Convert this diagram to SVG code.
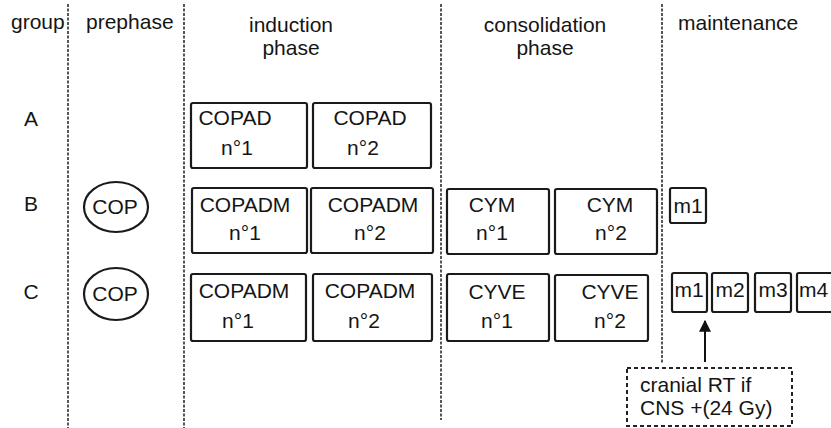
<svg xmlns="http://www.w3.org/2000/svg" width="831" height="428" viewBox="0 0 831 428">
  <style>
    text { font-family: "Liberation Sans", Arial, sans-serif; font-size: 21px; fill: #151515; }
    .mid { text-anchor: middle; }
    .sep { stroke: #444; stroke-width: 1.8; stroke-dasharray: 3 1.5; fill: none; }
    .box { fill: #fff; stroke: #1a1a1a; stroke-width: 2.2; }
    .oval { fill: #fff; stroke: #1a1a1a; stroke-width: 2.2; }
    .note { fill: #fff; stroke: #222; stroke-width: 2; stroke-dasharray: 4 3; }
    .arrow { stroke: #111; stroke-width: 2; fill: none; }
  </style>
  <defs>
    <marker id="head" viewBox="0 0 10 10" refX="9" refY="5" markerWidth="6" markerHeight="6" orient="auto">
      <path d="M0,0 L10,5 L0,10 z" fill="#111"/>
    </marker>
  </defs>
  <rect width="831" height="428" fill="#fff"/>

  <!-- column separators -->
  <g id="separators">
    <line class="sep" x1="68" y1="4" x2="68" y2="428"/>
    <line class="sep" x1="184" y1="4" x2="184" y2="428"/>
    <line class="sep" x1="441" y1="4" x2="441" y2="420"/>
    <line class="sep" x1="662" y1="4" x2="662" y2="364"/>
  </g>

  <!-- column headers -->
  <g id="headers">
    <text x="11" y="29">group</text>
    <text x="86" y="29">prephase</text>
    <text class="mid" x="291" y="32">induction</text>
    <text class="mid" x="291" y="55">phase</text>
    <text class="mid" x="545" y="32">consolidation</text>
    <text class="mid" x="545" y="55">phase</text>
    <text x="678" y="30">maintenance</text>
  </g>

  <!-- row labels -->
  <g id="rows">
    <text class="mid" x="31" y="126">A</text>
    <text class="mid" x="31" y="211">B</text>
    <text class="mid" x="31" y="299">C</text>
  </g>

  <!-- prephase -->
  <g id="cop-b">
    <ellipse class="oval" cx="116" cy="207" rx="32" ry="25"/>
    <text class="mid" x="115" y="214">COP</text>
  </g>
  <g id="cop-c">
    <ellipse class="oval" cx="116" cy="294" rx="32" ry="26"/>
    <text class="mid" x="115" y="301">COP</text>
  </g>

  <!-- induction phase -->
  <g id="copad-a1">
    <rect class="box" x="191" y="103" width="116" height="65" rx="2"/>
    <text class="mid" x="235" y="125">COPAD</text>
    <text class="mid" x="237" y="155">n°1</text>
  </g>
  <g id="copad-a2">
    <rect class="box" x="313" y="103" width="118" height="65" rx="2"/>
    <text class="mid" x="370" y="125">COPAD</text>
    <text class="mid" x="363" y="155">n°2</text>
  </g>
  <g id="copadm-b1">
    <rect class="box" x="192" y="188" width="115" height="65" rx="2"/>
    <text class="mid" x="245" y="212">COPADM</text>
    <text class="mid" x="245" y="240">n°1</text>
  </g>
  <g id="copadm-b2">
    <rect class="box" x="311" y="188" width="122" height="65" rx="2"/>
    <text class="mid" x="373" y="212">COPADM</text>
    <text class="mid" x="370" y="240">n°2</text>
  </g>
  <g id="copadm-c1">
    <rect class="box" x="191" y="274" width="115" height="67" rx="2"/>
    <text class="mid" x="244" y="298">COPADM</text>
    <text class="mid" x="238" y="328">n°1</text>
  </g>
  <g id="copadm-c2">
    <rect class="box" x="313" y="274" width="119" height="67" rx="2"/>
    <text class="mid" x="370" y="298">COPADM</text>
    <text class="mid" x="364" y="328">n°2</text>
  </g>

  <!-- consolidation phase -->
  <g id="cym-1">
    <rect class="box" x="447" y="189" width="102" height="65" rx="2"/>
    <text class="mid" x="492" y="212">CYM</text>
    <text class="mid" x="492" y="240">n°1</text>
  </g>
  <g id="cym-2">
    <rect class="box" x="555" y="189" width="102" height="65" rx="2"/>
    <text class="mid" x="610" y="212">CYM</text>
    <text class="mid" x="611" y="240">n°2</text>
  </g>
  <g id="cyve-1">
    <rect class="box" x="447" y="274" width="102" height="67" rx="2"/>
    <text class="mid" x="497" y="299">CYVE</text>
    <text class="mid" x="497" y="328">n°1</text>
  </g>
  <g id="cyve-2">
    <rect class="box" x="555" y="275" width="93" height="66" rx="2"/>
    <text class="mid" x="610" y="299">CYVE</text>
    <text class="mid" x="610" y="328">n°2</text>
  </g>

  <!-- maintenance -->
  <g id="m1-b">
    <rect class="box" x="670" y="188" width="36" height="35" rx="2"/>
    <text class="mid" x="688" y="213">m1</text>
  </g>
  <g id="m1-c">
    <rect class="box" x="672" y="273" width="35" height="39" rx="2"/>
    <text class="mid" x="689" y="297">m1</text>
  </g>
  <g id="m2-c">
    <rect class="box" x="712" y="273" width="36" height="39" rx="2"/>
    <text class="mid" x="730" y="297">m2</text>
  </g>
  <g id="m3-c">
    <rect class="box" x="755" y="273" width="36" height="39" rx="2"/>
    <text class="mid" x="773" y="297">m3</text>
  </g>
  <g id="m4-c">
    <rect class="box" x="797" y="273" width="40" height="39" rx="2"/>
    <text x="799" y="297">m4</text>
  </g>

  <!-- cranial radiotherapy note -->
  <g id="cranial-rt">
    <rect class="note" x="627" y="368" width="165" height="58"/>
    <text x="640" y="392">cranial RT if</text>
    <text x="640" y="415">CNS +(24 Gy)</text>
  </g>

  <g id="connectors">
    <line class="arrow" x1="705" y1="362" x2="705" y2="321" marker-end="url(#head)"/>
  </g>
</svg>
